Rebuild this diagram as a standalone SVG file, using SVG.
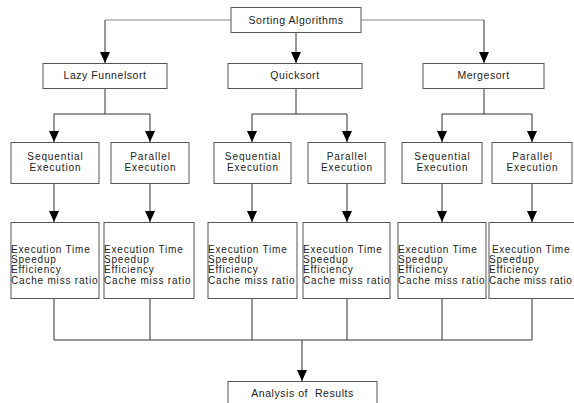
<svg xmlns="http://www.w3.org/2000/svg" width="574" height="403" viewBox="0 0 574 403">
<style>
.box{fill:#fff;stroke:#555;stroke-width:1}
.t1{font-family:"Liberation Sans",Arial,sans-serif;font-size:10.5px;letter-spacing:0.55px;fill:#222;text-anchor:middle}
.t2{font-family:"Liberation Sans",Arial,sans-serif;font-size:10px;letter-spacing:0.9px;fill:#222;text-anchor:middle}
.t3{font-family:"Liberation Sans",Arial,sans-serif;font-size:10px;letter-spacing:0.8px;fill:#222}
.c{fill:none;stroke:#333;stroke-width:1}
.cl{fill:none;stroke:#888;stroke-width:1}
</style>
<defs>
<marker id="arr" viewBox="0 0 11 10" refX="11" refY="5" markerWidth="11" markerHeight="10" markerUnits="userSpaceOnUse" orient="auto">
<path d="M0,0 L11,5 L0,10 z" fill="#000"/>
</marker>
</defs>
<rect width="574" height="403" fill="#fff"/>
<g id="connectors">
<path class="cl" d="M231,20 H105"/>
<path class="c" d="M105,20 V63" marker-end="url(#arr)"/>
<path class="cl" d="M361,20 H484"/>
<path class="c" d="M484,20 V63" marker-end="url(#arr)"/>
<path class="c" d="M296,32 V63" marker-end="url(#arr)"/>
<path class="c" d="M105,88 V114 M54,114 H150"/>
<path class="c" d="M54,114 V142" marker-end="url(#arr)"/>
<path class="c" d="M150,114 V142" marker-end="url(#arr)"/>
<path class="c" d="M296,88 V114 M252,114 H347"/>
<path class="c" d="M252,114 V142" marker-end="url(#arr)"/>
<path class="c" d="M347,114 V142" marker-end="url(#arr)"/>
<path class="c" d="M484,88 V114 M442,114 H532"/>
<path class="c" d="M442,114 V142" marker-end="url(#arr)"/>
<path class="c" d="M532,114 V142" marker-end="url(#arr)"/>
<path class="c" d="M54,183 V222" marker-end="url(#arr)"/>
<path class="c" d="M150,183 V222" marker-end="url(#arr)"/>
<path class="c" d="M252,183 V222" marker-end="url(#arr)"/>
<path class="c" d="M347,183 V222" marker-end="url(#arr)"/>
<path class="c" d="M442,183 V222" marker-end="url(#arr)"/>
<path class="c" d="M532,183 V222" marker-end="url(#arr)"/>
<path class="c" d="M54,298 V340 M150,298 V340 M252,298 V340 M347,298 V340 M442,298 V340 M532,298 V340 M54,340 H532"/>
<path class="c" d="M302,340 V381" marker-end="url(#arr)"/>
</g>
<g id="sorting">
<rect class="box" x="231" y="7.5" width="130" height="25"/>
<text class="t1" x="296" y="23.5">Sorting Algorithms</text>
</g>
<g id="lazy">
<rect class="box" x="43" y="63.5" width="124" height="25"/>
<text class="t1" x="105" y="79">Lazy Funnelsort</text>
</g>
<g id="quick">
<rect class="box" x="228" y="63.5" width="134" height="25"/>
<text class="t1" x="295" y="79">Quicksort</text>
</g>
<g id="merge">
<rect class="box" x="423" y="63.5" width="121" height="25"/>
<text class="t1" x="483.5" y="79">Mergesort</text>
</g>
<g id="lazy-seq">
<rect class="box" x="11" y="142.5" width="88" height="41"/>
<text class="t2" x="55.5" y="160">Sequential</text>
<text class="t2" x="55.5" y="170.5">Execution</text>
</g>
<g id="lazy-par">
<rect class="box" x="111" y="142.5" width="78" height="41"/>
<text class="t2" x="150.5" y="160">Parallel</text>
<text class="t2" x="150.5" y="170.5">Execution</text>
</g>
<g id="quick-seq">
<rect class="box" x="214" y="142.5" width="77" height="41"/>
<text class="t2" x="253" y="160">Sequential</text>
<text class="t2" x="253" y="170.5">Execution</text>
</g>
<g id="quick-par">
<rect class="box" x="308" y="142.5" width="77" height="41"/>
<text class="t2" x="347" y="160">Parallel</text>
<text class="t2" x="347" y="170.5">Execution</text>
</g>
<g id="merge-seq">
<rect class="box" x="402" y="142.5" width="80" height="41"/>
<text class="t2" x="442.5" y="160">Sequential</text>
<text class="t2" x="442.5" y="170.5">Execution</text>
</g>
<g id="merge-par">
<rect class="box" x="492" y="142.5" width="80" height="41"/>
<text class="t2" x="532.5" y="160">Parallel</text>
<text class="t2" x="532.5" y="170.5">Execution</text>
</g>
<g id="lazy-seq-metrics">
<rect class="box" x="11" y="222.5" width="88" height="76"/>
<text class="t3" x="11" y="252.5">Execution Time</text>
<text class="t3" x="11" y="263">Speedup</text>
<text class="t3" x="11" y="273.3">Efficiency</text>
<text class="t3" x="11" y="283.7">Cache miss ratio</text>
</g>
<g id="lazy-par-metrics">
<rect class="box" x="104" y="222.5" width="90" height="76"/>
<text class="t3" x="104" y="252.5">Execution Time</text>
<text class="t3" x="104" y="263">Speedup</text>
<text class="t3" x="104" y="273.3">Efficiency</text>
<text class="t3" x="104" y="283.7">Cache miss ratio</text>
</g>
<g id="quick-seq-metrics">
<rect class="box" x="208" y="222.5" width="89" height="76"/>
<text class="t3" x="208" y="252.5">Execution Time</text>
<text class="t3" x="208" y="263">Speedup</text>
<text class="t3" x="208" y="273.3">Efficiency</text>
<text class="t3" x="208" y="283.7">Cache miss ratio</text>
</g>
<g id="quick-par-metrics">
<rect class="box" x="303" y="222.5" width="87" height="76"/>
<text class="t3" x="303" y="252.5">Execution Time</text>
<text class="t3" x="303" y="263">Speedup</text>
<text class="t3" x="303" y="273.3">Efficiency</text>
<text class="t3" x="303" y="283.7">Cache miss ratio</text>
</g>
<g id="merge-seq-metrics">
<rect class="box" x="398" y="222.5" width="88" height="76"/>
<text class="t3" x="398" y="252.5">Execution Time</text>
<text class="t3" x="398" y="263">Speedup</text>
<text class="t3" x="398" y="273.3">Efficiency</text>
<text class="t3" x="398" y="283.7">Cache miss ratio</text>
</g>
<g id="merge-par-metrics">
<rect class="box" x="489" y="222.5" width="90" height="76"/>
<text class="t3" x="492" y="252.5" style="letter-spacing:0.7px">Execution Time</text>
<text class="t3" x="489" y="263">Speedup</text>
<text class="t3" x="489" y="273.3">Efficiency</text>
<text class="t3" x="489" y="283.7" style="letter-spacing:0.55px">Cache miss ratio</text>
</g>
<g id="analysis">
<rect class="box" x="228" y="381.5" width="149" height="30"/>
<text class="t1" x="302.5" y="396.5" xml:space="preserve">Analysis of  Results</text>
</g>
</svg>
